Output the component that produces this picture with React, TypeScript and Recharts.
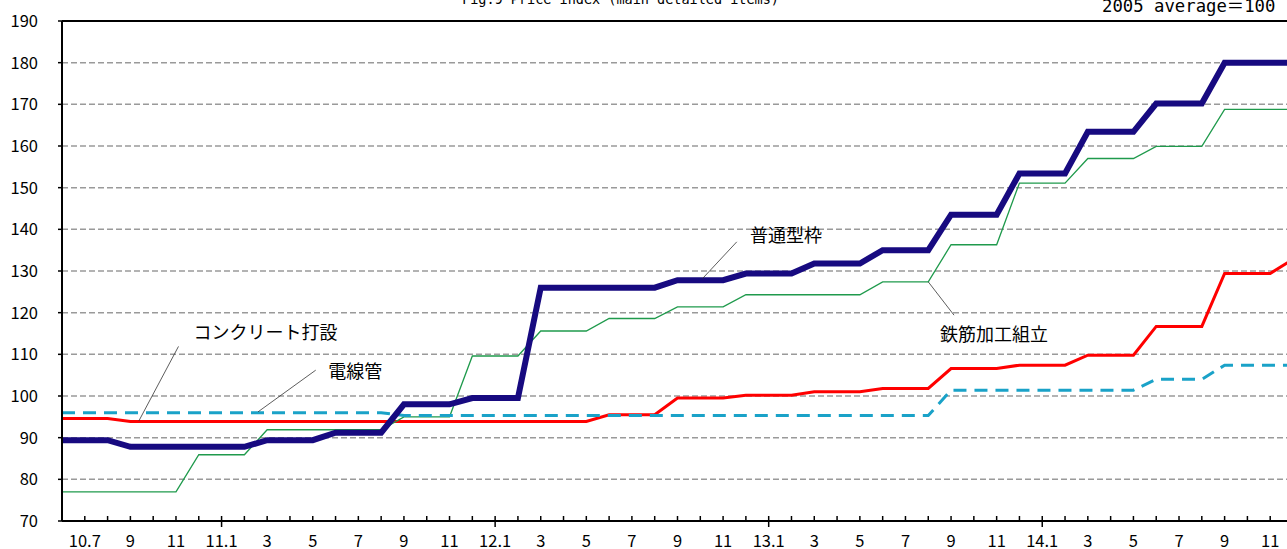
import React from 'react';
import {
  LineChart,
  Line,
  XAxis,
  YAxis,
  CartesianGrid,
  ReferenceLine,
  ReferenceDot,
} from 'recharts';

// ---------- data ----------
const months = [
  '2010-06', '2010-07', '2010-08', '2010-09', '2010-10', '2010-11', '2010-12',
  '2011-01', '2011-02', '2011-03', '2011-04', '2011-05', '2011-06', '2011-07',
  '2011-08', '2011-09', '2011-10', '2011-11', '2011-12',
  '2012-01', '2012-02', '2012-03', '2012-04', '2012-05', '2012-06', '2012-07',
  '2012-08', '2012-09', '2012-10', '2012-11', '2012-12',
  '2013-01', '2013-02', '2013-03', '2013-04', '2013-05', '2013-06', '2013-07',
  '2013-08', '2013-09', '2013-10', '2013-11', '2013-12',
  '2014-01', '2014-02', '2014-03', '2014-04', '2014-05', '2014-06', '2014-07',
  '2014-08', '2014-09', '2014-10', '2014-11', '2014-12',
];

const tickLabels = [
  '', '10.7', '', '9', '', '11', '',
  '11.1', '', '3', '', '5', '', '7', '', '9', '', '11', '',
  '12.1', '', '3', '', '5', '', '7', '', '9', '', '11', '',
  '13.1', '', '3', '', '5', '', '7', '', '9', '', '11', '',
  '14.1', '', '3', '', '5', '', '7', '', '9', '', '11', '',
];

// 普通型枠
const futsuKatawaku = [
  89.4, 89.4, 89.4, 87.8, 87.8, 87.8, 87.8, 87.8, 87.8, 89.4,
  89.4, 89.4, 91.2, 91.2, 91.2, 98.0, 98.0, 98.0, 99.5, 99.5,
  99.5, 126.0, 126.0, 126.0, 126.0, 126.0, 126.0, 127.8, 127.8, 127.8,
  129.4, 129.4, 129.4, 131.8, 131.8, 131.8, 135.0, 135.0, 135.0, 143.5,
  143.5, 143.5, 153.4, 153.4, 153.4, 163.4, 163.4, 163.4, 170.2, 170.2,
  170.2, 180.0, 180.0, 180.0, 180.0,
];

// 鉄筋加工組立
const tekkinKakou = [
  77.0, 77.0, 77.0, 77.0, 77.0, 77.0, 85.9, 85.9, 85.9, 91.9,
  91.9, 91.9, 91.9, 91.9, 91.9, 95.0, 95.0, 95.0, 109.6, 109.6,
  109.6, 115.6, 115.6, 115.6, 118.6, 118.6, 118.6, 121.4, 121.4, 121.4,
  124.3, 124.3, 124.3, 124.3, 124.3, 124.3, 127.4, 127.4, 127.4, 136.3,
  136.3, 136.3, 151.1, 151.1, 151.1, 157.0, 157.0, 157.0, 159.9, 159.9,
  159.9, 168.8, 168.8, 168.8, 168.8,
];

// コンクリート打設
const concreteDasetsu = [
  94.6, 94.6, 94.6, 93.9, 93.9, 93.9, 93.9, 93.9, 93.9, 93.9,
  93.9, 93.9, 93.9, 93.9, 93.9, 93.9, 93.9, 93.9, 93.9, 93.9,
  93.9, 93.9, 93.9, 93.9, 95.5, 95.5, 95.5, 99.5, 99.5, 99.5,
  100.2, 100.2, 100.2, 101.0, 101.0, 101.0, 101.8, 101.8, 101.8, 106.6,
  106.6, 106.6, 107.4, 107.4, 107.4, 109.8, 109.8, 109.8, 116.7, 116.7,
  116.7, 129.4, 129.4, 129.4, 132.8,
];

// 電線管
const densenkan = [
  96.0, 96.0, 96.0, 96.0, 96.0, 96.0, 96.0, 96.0, 96.0, 96.0,
  96.0, 96.0, 96.0, 96.0, 96.0, 95.3, 95.3, 95.3, 95.3, 95.3,
  95.3, 95.3, 95.3, 95.3, 95.3, 95.3, 95.3, 95.3, 95.3, 95.3,
  95.3, 95.3, 95.3, 95.3, 95.3, 95.3, 95.3, 95.3, 95.3, 101.4,
  101.4, 101.4, 101.4, 101.4, 101.4, 101.4, 101.4, 101.4, 104.0, 104.0,
  104.0, 107.4, 107.4, 107.4, 107.4,
];

const yTicks = [70, 80, 90, 100, 110, 120, 130, 140, 150, 160, 170, 180, 190];

const titleText = 'Fig.9 Price index (main detailed items)';
const baseText = '2005 average＝100';

// annotation labels (data coordinates: month index, value)
const annotations = [
  { text: 'コンクリート打設', m: 8.93, v: 115.2 },
  { text: '電線管', m: 12.86, v: 105.8 },
  { text: '普通型枠', m: 31.76, v: 138.6 },
  { text: '鉄筋加工組立', m: 40.88, v: 114.7 },
];
const leaders = [
  { m1: 5.11, v1: 111.9, m2: 3.37, v2: 94.0 },
  { m1: 11.13, v1: 106.2, m2: 8.6, v2: 96.2 },
  { m1: 29.6, v1: 137.0, m2: 28.1, v2: 128.2 },
  { m1: 38.0, v1: 127.4, m2: 39.13, v2: 119.4 },
];

const data = months.map((mo, i) => ({
  i,
  month: mo,
  futsu: futsuKatawaku[i],
  tekkin: tekkinKakou[i],
  concrete: concreteDasetsu[i],
  densen: densenkan[i],
}));

const FONT = '"Noto Sans CJK JP", "Noto Sans", sans-serif';
const MONO = '"DejaVu Sans Mono", "Noto Sans CJK JP", monospace';

const MonthTick = (props: any) => {
  const { x, y, payload } = props;
  const i = payload.value as number;
  const isJan = months[i] && months[i].endsWith('-01');
  const lbl = tickLabels[i];
  return (
    <g>
      {i > 0 && (
        <line
          x1={x}
          x2={x}
          y1={y - 5}
          y2={isJan ? y + 6 : y}
          stroke="#000"
          strokeWidth={1.5}
        />
      )}
      {lbl ? (
        <text
          x={x}
          y={y + 25.5}
          textAnchor="middle"
          fontSize={16.5}
          fontFamily={FONT}
          fill="#000"
        >
          {lbl}
        </text>
      ) : null}
    </g>
  );
};

export default function App() {
  return (
    <div
      style={{
        position: 'fixed',
        left: 0,
        top: 0,
        width: 1287,
        height: 549,
        overflow: 'hidden',
        background: '#fff',
      }}
    >
      <LineChart
        width={1310}
        height={549}
        data={data}
        margin={{ top: 21, right: 17, bottom: 0, left: 0 }}
      >
        <CartesianGrid
          vertical={false}
          stroke="#9a9a9a"
          strokeDasharray="6 3"
          strokeWidth={1.5}
        />
        <XAxis
          dataKey="i"
          type="number"
          domain={[0, 54]}
          ticks={data.map((d) => d.i)}
          interval={0}
          tickSize={0}
          tickMargin={0}
          tickLine={false}
          axisLine={{ stroke: '#000', strokeWidth: 2 }}
          tick={<MonthTick />}
          height={28}
        />
        <YAxis
          type="number"
          domain={[70, 190]}
          ticks={yTicks}
          interval={0}
          width={62}
          tickSize={4}
          tickMargin={20}
          tickLine={{ stroke: '#000', strokeWidth: 1.5 }}
          axisLine={{ stroke: '#000', strokeWidth: 2 }}
          tick={{ fontSize: 16.5, fill: '#000', fontFamily: FONT }}
        />
        <ReferenceLine y={190} stroke="#000" strokeWidth={2} />
        <Line
          type="linear"
          dataKey="concrete"
          stroke="#ff0000"
          strokeWidth={3}
          dot={false}
          isAnimationActive={false}
        />
        <Line
          type="linear"
          dataKey="tekkin"
          stroke="#1f9a4c"
          strokeWidth={1.3}
          dot={false}
          isAnimationActive={false}
        />
        <Line
          type="linear"
          dataKey="densen"
          stroke="#1aa2c8"
          strokeWidth={3}
          strokeDasharray="13 8"
          dot={false}
          isAnimationActive={false}
        />
        <Line
          type="linear"
          dataKey="futsu"
          stroke="#170a80"
          strokeWidth={6}
          dot={false}
          isAnimationActive={false}
        />
        {leaders.map((l, k) => (
          <ReferenceLine
            key={'ld' + k}
            segment={[
              { x: l.m1, y: l.v1 },
              { x: l.m2, y: l.v2 },
            ]}
            stroke="#333"
            strokeWidth={0.8}
          />
        ))}
        {annotations.map((a, k) => (
          <ReferenceDot
            key={'an' + k}
            x={a.m}
            y={a.v}
            r={0}
            fill="none"
            stroke="none"
            label={{
              value: a.text,
              position: 'center',
              fontSize: 18,
              fill: '#000',
              fontFamily: FONT,
            }}
          />
        ))}
      </LineChart>
      <svg
        width={1310}
        height={30}
        style={{ position: 'absolute', left: 0, top: 0, overflow: 'visible', pointerEvents: 'none' }}
      >
        <text x={462} y={3.5} fontSize={13.5} fontFamily={MONO} fill="#000">
          {titleText}
        </text>
        <text x={1102} y={11.7} fontSize={17.3} fontFamily={MONO} fill="#000">
          {baseText}
        </text>
      </svg>
    </div>
  );
}
